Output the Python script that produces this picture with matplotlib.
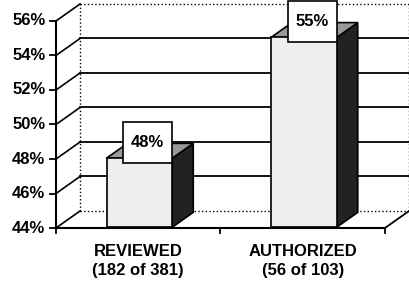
import matplotlib
matplotlib.use('Agg')
import matplotlib.pyplot as plt
from matplotlib.patches import Polygon, Rectangle

# data
categories = ['REVIEWED', 'AUTHORIZED']
counts = ['(182 of 381)', '(56 of 103)']
values = [48, 55]
bar_labels = ['48%', '55%']
yticks = [44, 46, 48, 50, 52, 54, 56]
ytick_labels = ['44%', '46%', '48%', '50%', '52%', '54%', '56%']

plt.rcParams['font.family'] = ['Liberation Sans', 'DejaVu Sans']

fig = plt.figure(figsize=(4.1, 2.84), dpi=100)
ax = fig.add_axes([0, 0, 1, 1])
ax.set_xlim(-0.3404, 2.152)
ax.set_ylim(40.754, 57.217)
ax.axis('off')

OX, OY = 0.146, 0.986      # depth offset of the back wall
ymin, ymax = yticks[0], yticks[-1]
n = len(categories)
f0, f1 = 0.05, 0.92        # bar front / back depth (fraction)
bw = 0.4

# back wall + left wall
for v in yticks:
    if v in (ymin, ymax):
        ax.plot([OX, n + OX], [v + OY, v + OY], color='k', lw=1.0, ls=':', zorder=1)
    else:
        ax.plot([OX, n + OX], [v + OY, v + OY], color='k', lw=1.3, zorder=1)
    ax.plot([0, OX], [v, v + OY], color='k', lw=1.2, zorder=1)
ax.plot([OX, OX], [ymin + OY, ymax + OY], color='k', lw=1.0, ls=':', zorder=1)
ax.plot([n + OX, n + OX], [ymin + OY, ymax + OY], color='k', lw=1.0, ls=':', zorder=1)
# floor right edge
ax.plot([n, n + OX], [ymin, ymin + OY], color='k', lw=1.3, zorder=1)

# bars
for i, v in enumerate(values):
    x0 = i + 0.5 - bw / 2 + f0 * OX
    x1 = x0 + bw
    yb = ymin + f0 * OY
    yt = v + f0 * OY
    dx, dy = (f1 - f0) * OX, (f1 - f0) * OY
    front = Rectangle((x0, yb), bw, yt - yb, facecolor='#eeeeee', edgecolor='k', lw=1.2, zorder=3)
    side = Polygon([(x1, yb), (x1 + dx, yb + dy), (x1 + dx, yt + dy), (x1, yt)],
                   facecolor='#222222', edgecolor='k', lw=1.2, zorder=3)
    top = Polygon([(x0, yt), (x1, yt), (x1 + dx, yt + dy), (x0 + dx, yt + dy)],
                  facecolor='#999999', edgecolor='k', lw=1.2, zorder=3)
    ax.add_patch(side)
    ax.add_patch(top)
    ax.add_patch(front)

    # value box
    boxw, boxh = 0.298, 2.38
    box = Rectangle((x1 - boxw, yt - 0.27), boxw, boxh, facecolor='white', edgecolor='k', lw=1.2, zorder=5)
    ax.add_patch(box)
    ax.text(x1 - boxw / 2, yt - 0.27 + boxh / 2, bar_labels[i], ha='center', va='center',
            fontsize=12, fontweight='bold', zorder=6)

    ax.text(i + 0.5, 42.61, categories[i], ha='center', va='center', fontsize=12, fontweight='bold')
    ax.text(i + 0.5, 41.51, counts[i], ha='center', va='center', fontsize=12, fontweight='bold')

# front axes
ax.plot([0, 0], [ymin, ymax], color='k', lw=1.5, zorder=4)
ax.plot([0, n], [ymin, ymin], color='k', lw=1.5, zorder=4)
for v, lab in zip(yticks, ytick_labels):
    ax.plot([-0.036, 0], [v, v], color='k', lw=1.3, zorder=4)
    ax.text(-0.065, v, lab, ha='right', va='center', fontsize=12, fontweight='bold')
for k in range(n + 1):
    ax.plot([k, k], [ymin, ymin - 0.3], color='k', lw=1.3, zorder=4)

fig.savefig('out.png', dpi=100)
